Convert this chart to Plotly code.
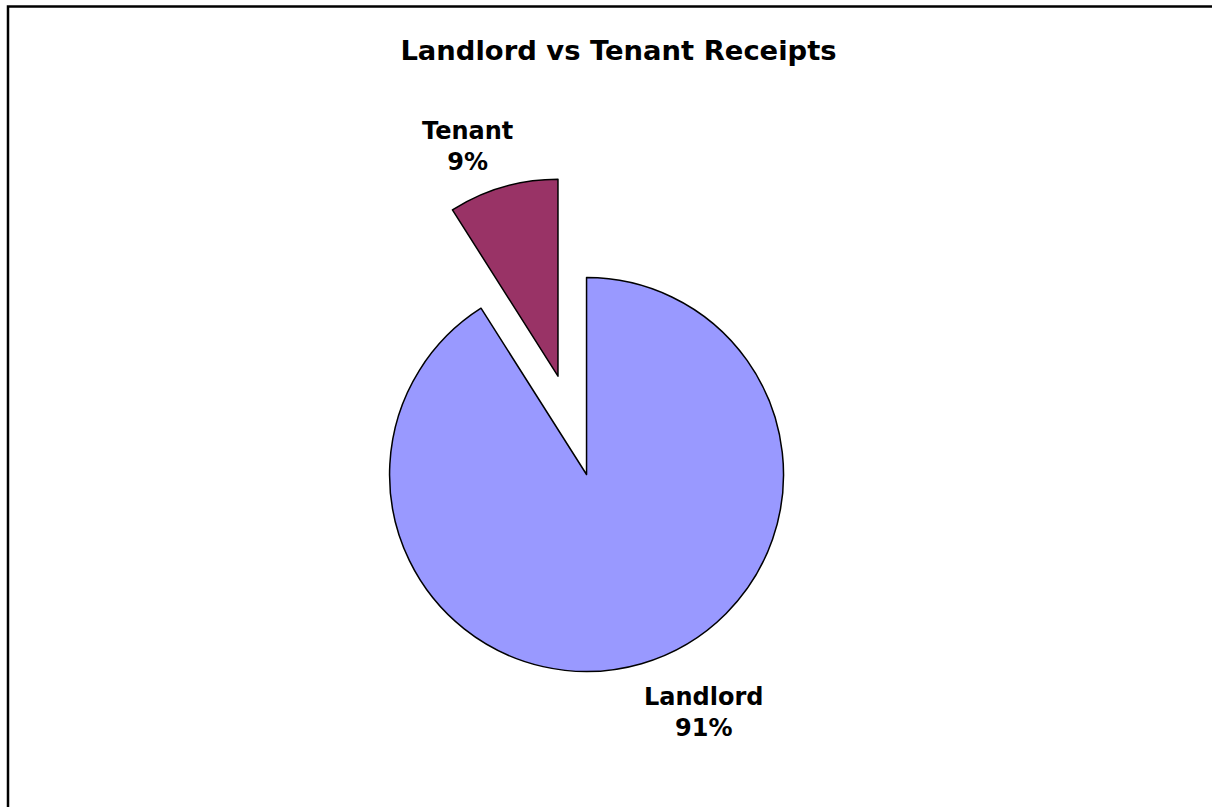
import plotly.graph_objects as go

# data
labels = ["Landlord", "Tenant"]
values = [91, 9]
colors = ["#9999FF", "#993366"]
pulls = [0, 0.52]

# label block centres (pixels)
label_pos = {"Landlord": (703, 712), "Tenant": (467, 146)}

total = sum(values)
W, H = 1212, 807

fig = go.Figure(go.Pie(
    labels=labels,
    values=values,
    sort=False,
    direction="counterclockwise",
    rotation=0,
    pull=pulls,
    marker=dict(colors=colors, line=dict(color="black", width=1.5)),
    textinfo="none",
    domain=dict(x=[0.2, 0.7679], y=[0.041, 0.783]),
    showlegend=False,
    hoverinfo="label+percent",
))

for lab, v in zip(labels, values):
    px_, py_ = label_pos[lab]
    fig.add_annotation(
        text=f"<b>{lab}<br>{round(v / total * 100)}%</b>",
        x=px_ / W, y=1 - py_ / H, xref="paper", yref="paper",
        xanchor="center", yanchor="middle", showarrow=False,
        font=dict(family="DejaVu Sans", size=24, color="black"),
    )

fig.update_layout(
    width=W, height=H,
    margin=dict(l=0, r=0, t=0, b=0, autoexpand=False),
    paper_bgcolor="white",
    title=dict(
        text="<b>Landlord vs Tenant Receipts</b>",
        font=dict(family="DejaVu Sans", size=27.4, color="black"),
        x=618.5 / W, xanchor="center",
        y=1 - 50 / H, yanchor="middle",
    ),
    # chart-area border (right and bottom edges fall outside the view)
    shapes=[dict(type="rect", xref="paper", yref="paper",
                 x0=8 / W, x1=1.01, y0=-0.01, y1=1 - 6.5 / H,
                 line=dict(color="black", width=2.5), fillcolor="rgba(0,0,0,0)")],
)

fig.write_html("out.html", config={"displayModeBar": False},
               post_script="document.body.style.margin='0';")
